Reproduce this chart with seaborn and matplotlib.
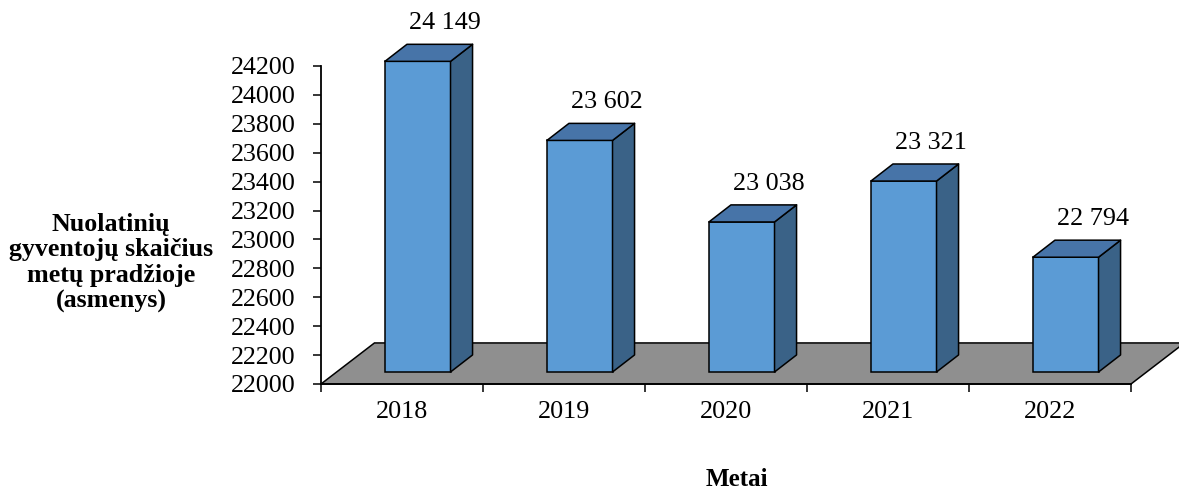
import pandas as pd
import seaborn as sns
import matplotlib.pyplot as plt
from matplotlib.patches import Polygon

plt.rcParams["font.family"] = ["Liberation Serif", "DejaVu Serif"]

# data
years = ["2018", "2019", "2020", "2021", "2022"]
residents = [24149, 23602, 23038, 23321, 22794]
y_ticks = list(range(22000, 24201, 200))

# colours (Excel style 3D columns)
front_col = "#5b9bd5"
top_col = "#4774a8"
side_col = "#3a6287"
floor_col = "#8f8f8f"

# fake 3D depth in data units (x = category, y = persons)
plane_dx, plane_dy = 0.097, 83
bar_dx, bar_dy = 0.136, 118
base = 22000


def main():
    df = pd.DataFrame({"year": years, "residents": residents})

    fig = plt.figure(figsize=(11.79, 4.91), dpi=100)
    ax = fig.add_axes([321 / 1179, 107 / 491, 858 / 1179, 384 / 491])

    sns.barplot(data=df, x="year", y="residents", order=years, width=0.405,
                color=front_col, saturation=1, edgecolor="black", linewidth=1.1,
                errorbar=None, ax=ax, zorder=3)

    # shift the front faces back onto the bar plane, then add side + top faces
    for p, val in zip(list(ax.patches), residents):
        x0 = p.get_x() + plane_dx
        w = p.get_width()
        bottom = base + plane_dy
        top_y = val + plane_dy
        p.set_x(x0)
        p.set_y(bottom)
        p.set_height(top_y - bottom)
        side = [(x0 + w, bottom), (x0 + w + bar_dx, bottom + bar_dy),
                (x0 + w + bar_dx, top_y + bar_dy), (x0 + w, top_y)]
        top = [(x0, top_y), (x0 + w, top_y), (x0 + w + bar_dx, top_y + bar_dy),
               (x0 + bar_dx, top_y + bar_dy)]
        ax.add_patch(Polygon(side, closed=True, facecolor=side_col, edgecolor="black",
                             linewidth=1.1, zorder=3, joinstyle="round"))
        ax.add_patch(Polygon(top, closed=True, facecolor=top_col, edgecolor="black",
                             linewidth=1.1, zorder=3, joinstyle="round"))
        ax.annotate(f"{val:,}".replace(",", " "), xy=(x0 + w / 2, top_y),
                    xytext=(27, 38), textcoords="offset pixels",
                    ha="center", va="center", fontsize=18.8)

    # floor
    fx = 2 * plane_dx + bar_dx
    fy = 2 * plane_dy + bar_dy
    n = len(years)
    floor = [(-0.5, base), (n - 0.5, base), (n - 0.5 + fx, base + fy), (-0.5 + fx, base + fy)]
    ax.add_patch(Polygon(floor, closed=True, facecolor=floor_col, edgecolor="black",
                         linewidth=1.1, zorder=1, clip_on=False))

    ax.set_xlim(-0.5, -0.5 + 858 / 162)
    ax.set_ylim(base, base + 384 / 0.14455)

    for s in ["top", "right"]:
        ax.spines[s].set_visible(False)
    ax.spines["left"].set_bounds(y_ticks[0], y_ticks[-1])
    ax.spines["bottom"].set_bounds(-0.5, n - 0.5)
    ax.spines["left"].set_linewidth(1.3)
    ax.spines["bottom"].set_linewidth(1.3)

    ax.set_yticks(y_ticks)
    ax.set_yticklabels([str(t) for t in y_ticks])
    ax.tick_params(axis="y", direction="out", length=6, width=1.1, pad=12, labelsize=18.7)

    ax.set_xticks(range(n))
    ax.set_xticklabels(years)
    ax.set_xticks([i - 0.5 for i in range(n + 1)], minor=True)
    ax.tick_params(axis="x", which="major", length=0, pad=12.5, labelsize=18.8)
    ax.tick_params(axis="x", which="minor", direction="out", length=6, width=1.1)

    ax.set_ylabel("Nuolatinių\ngyventojų skaičius\nmetų pradžioje\n(asmenys)",
                  rotation=0, fontsize=18.7, fontweight="bold", ha="center", va="center",
                  multialignment="center", linespacing=1.15)
    ax.yaxis.set_label_coords((111 - 321) / 858, (491 - 263 - 107) / 384)
    ax.set_xlabel("Metai", fontsize=18, fontweight="bold", va="center")
    ax.xaxis.set_label_coords((737 - 321) / 858, (491 - 479 - 107) / 384)

    fig.savefig("out.png", dpi=100)


main()
